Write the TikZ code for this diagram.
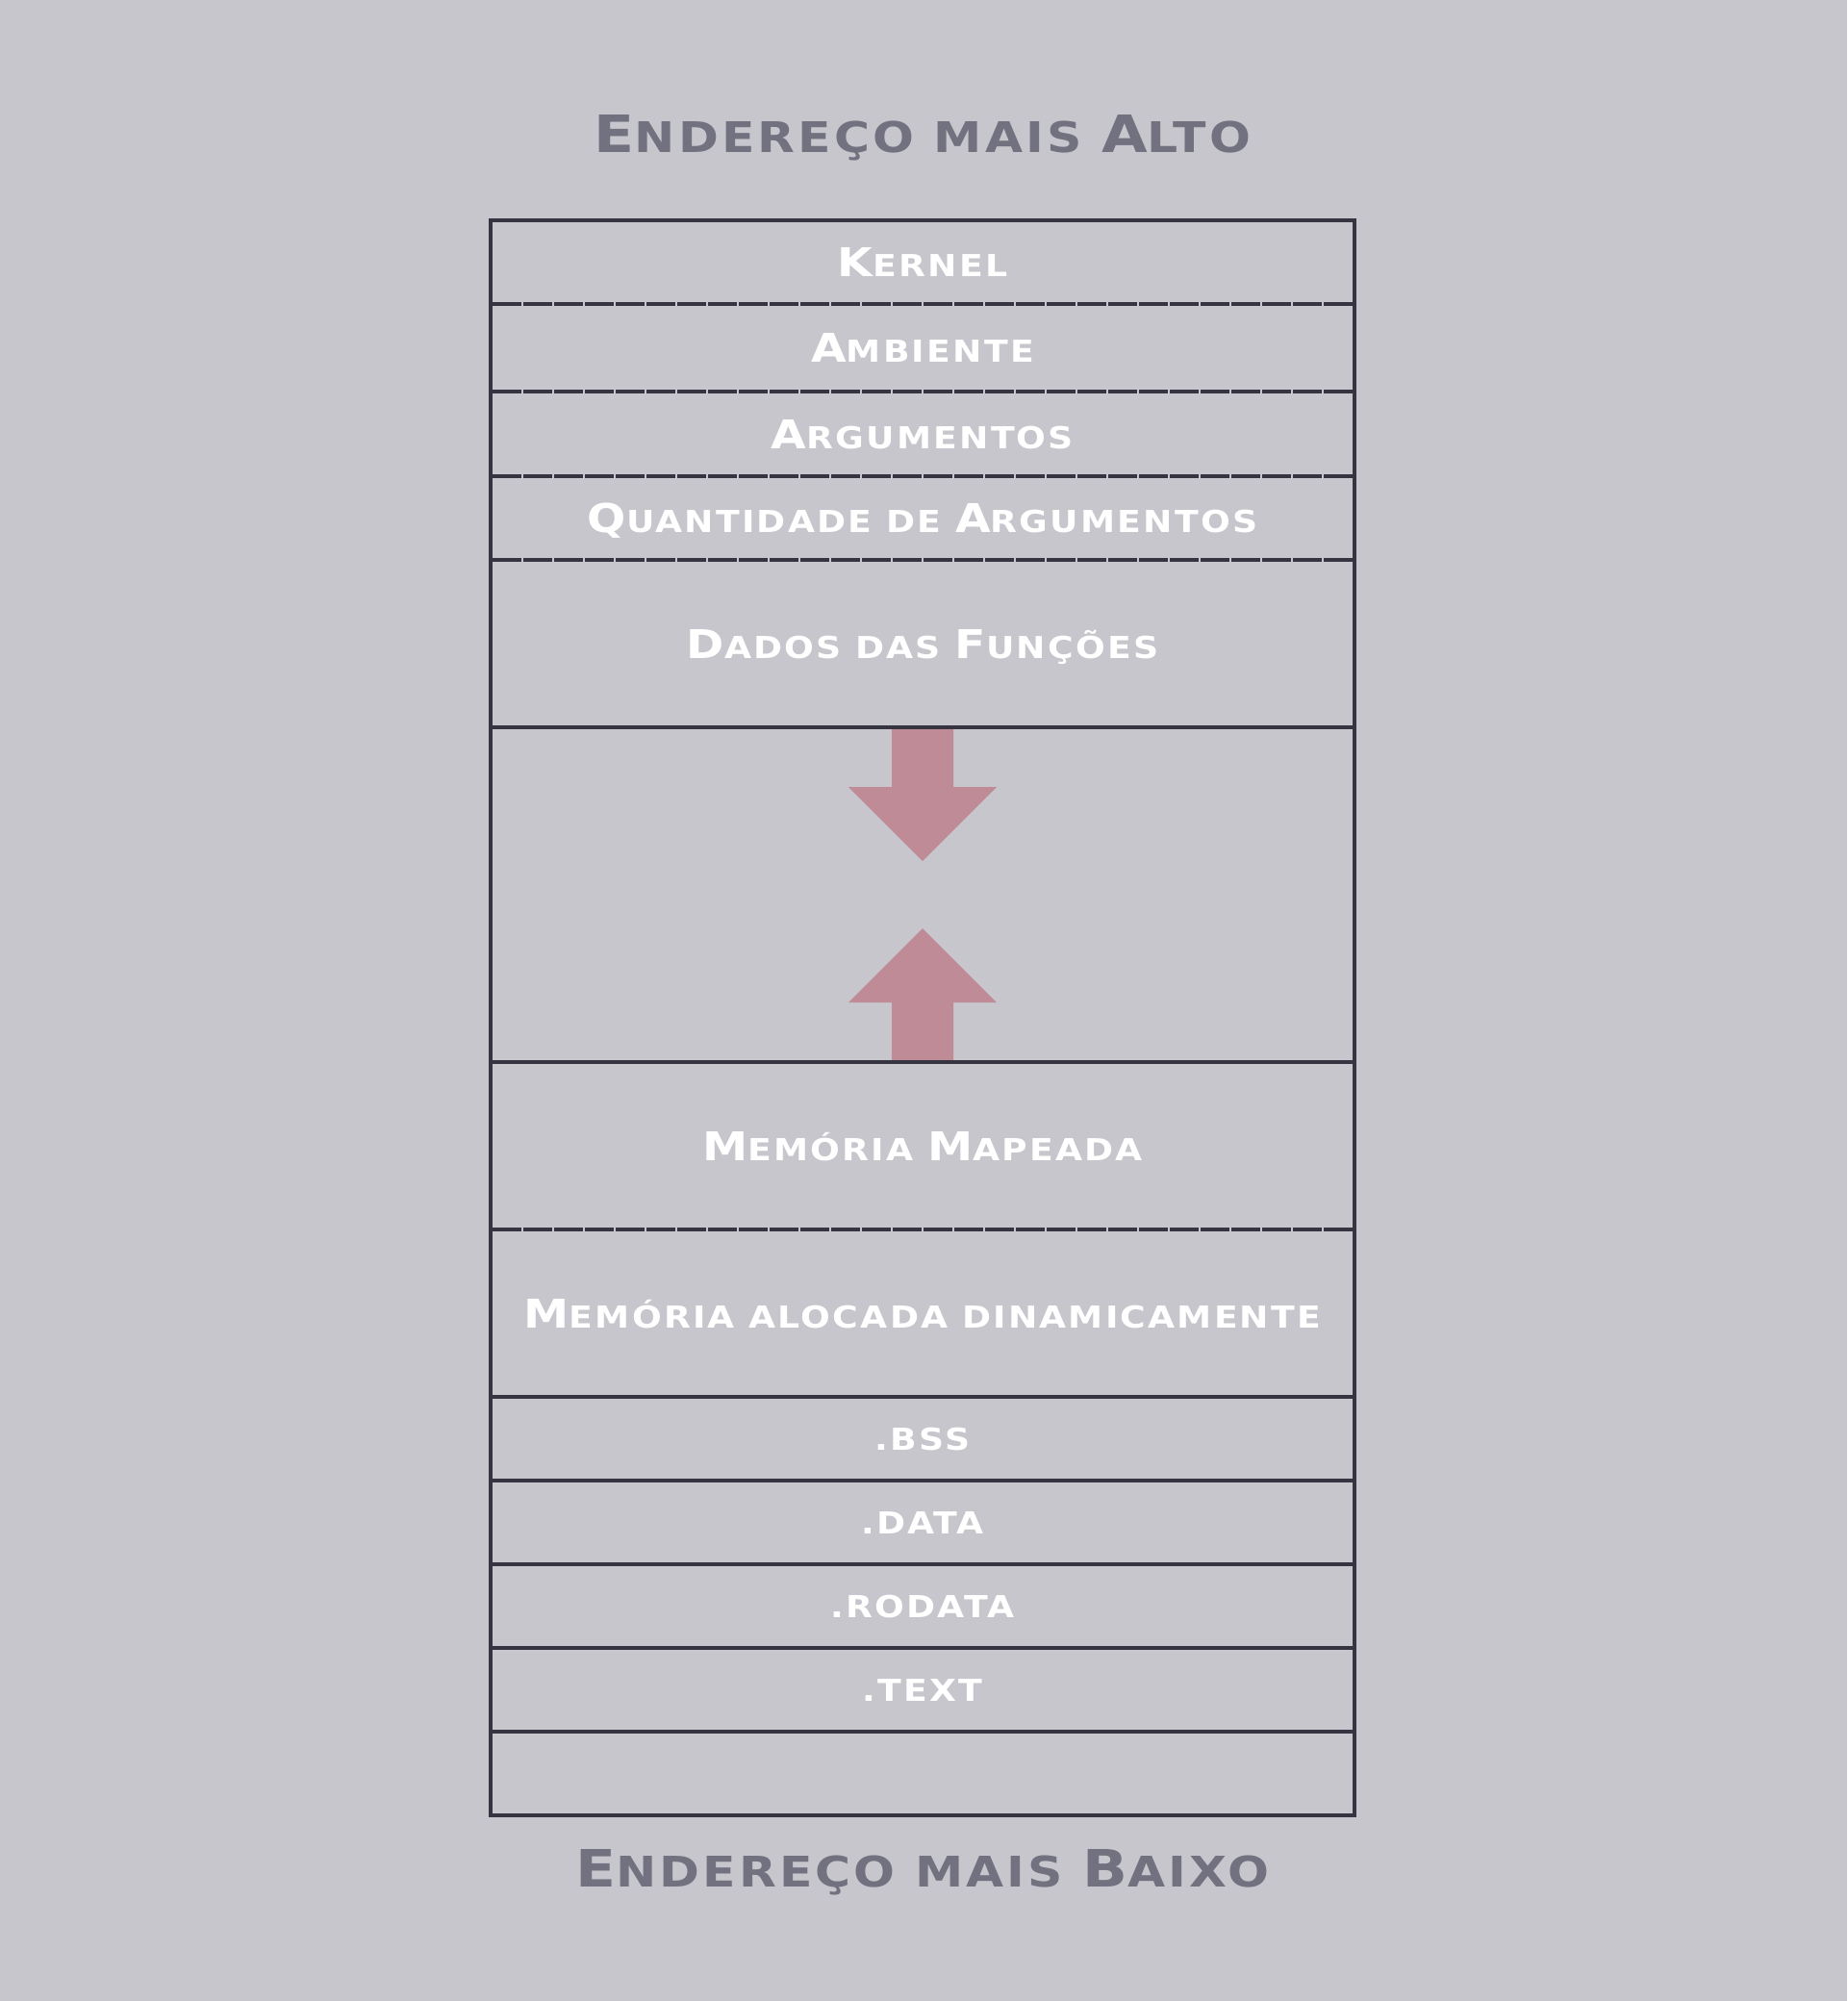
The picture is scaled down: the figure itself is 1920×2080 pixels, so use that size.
\documentclass[tikz,border=0pt]{standalone}
\usepackage{fontspec}
\setmainfont{DejaVu Sans}[LetterSpace=7,FakeStretch=1.15]
\definecolor{bgc}{HTML}{C7C6CC}
\definecolor{linec}{HTML}{363440}
\definecolor{titlec}{HTML}{727180}
\definecolor{arrowc}{HTML}{BF8B97}
\newcommand\Bg[1]{{\fontsize{41.2}{41.2}\selectfont #1}}
\newcommand\Tg[1]{{\fontsize{53.5}{53.5}\selectfont #1}}
\tikzset{
  lbl/.style={anchor=base, inner sep=0pt, text=white, font=\bfseries\fontsize{31.5}{31.5}\selectfont},
  ttl/.style={anchor=base, inner sep=0pt, text=titlec, font=\bfseries\fontsize{43.9}{43.9}\selectfont},
  solidsep/.style={draw=linec, line width=4pt},
  dashsep/.style={draw=linec, line width=4pt, dash pattern=on 30pt off 2pt},
  growarrow/.style={fill=arrowc}
}
\begin{document}
\begin{tikzpicture}[x=1pt,y=-1pt]
\fill[bgc] (0,0) rectangle (1920,2080);
\useasboundingbox (0,0) rectangle (1920,2080);
% arrows
\fill[growarrow] (927,756) -- (991,756) -- (991,818) -- (1036,818) -- (959,895) -- (882,818) -- (927,818) -- cycle;
\fill[growarrow] (927,1104) -- (991,1104) -- (991,1042) -- (1036,1042) -- (959,965) -- (882,1042) -- (927,1042) -- cycle;
% named corners
\coordinate (tl) at (510,229);
\coordinate (br) at (1408,1887);
% separators
\foreach \y in {316,407,495,582,1278}{
  \draw[dashsep] (512,\y) -- (1406,\y);
}
\foreach \y in {756,1104,1452,1539,1626,1713,1800}{
  \draw[solidsep] (510,\y) -- (1408,\y);
}
\draw[solidsep] (tl) rectangle (br);
% titles
\node[ttl] (top) at (959,158) {\Tg{E}NDEREÇO MAIS \Tg{A}LTO};
\node[ttl] (bot) at (959,1961) {\Tg{E}NDEREÇO MAIS \Tg{B}AIXO};
% labels
\node[lbl] (kernel) at (959,287.5) {\Bg{K}ERNEL};
\node[lbl] (amb) at (959,376.5) {\Bg{A}MBIENTE};
\node[lbl] (args) at (959,466) {\Bg{A}RGUMENTOS};
\node[lbl] (argc) at (959,553.5) {\Bg{Q}UANTIDADE DE \Bg{A}RGUMENTOS};
\node[lbl] (dados) at (959,684) {\Bg{D}ADOS DAS \Bg{F}UNÇÕES};
\node[lbl] (mapeada) at (959,1206) {\Bg{M}EMÓRIA \Bg{M}APEADA};
\node[lbl] (heap) at (959,1380) {\Bg{M}EMÓRIA ALOCADA DINAMICAMENTE};
\node[lbl] (bss) at (959,1507.5) {.BSS};
\node[lbl] (data) at (959,1594.5) {.DATA};
\node[lbl] (rodata) at (959,1681.5) {.RODATA};
\node[lbl] (text) at (959,1768.5) {.TEXT};
\end{tikzpicture}
\end{document}
